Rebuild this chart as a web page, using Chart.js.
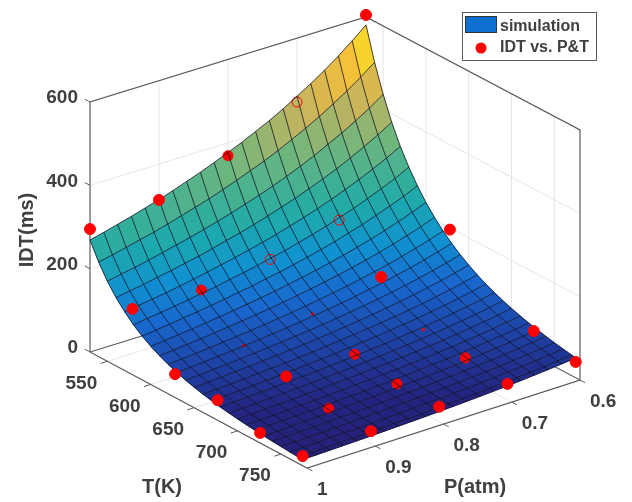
<!DOCTYPE html>
<html>
<head>
<meta charset="utf-8">
<title>IDT surface</title>
<script src="https://cdn.jsdelivr.net/npm/chart.js@4/dist/chart.umd.min.js"></script>
<style>
  html, body { margin: 0; padding: 0; background: #fff; }
  canvas { display: block; }
</style>
</head>
<body>
<canvas id="chart" width="632" height="502"></canvas>
<script>
// ── Tick labels ──────────────────────────────────────────────────────────────
const tTicks = [550, 600, 650, 700, 750];
const pTicks = [1, 0.9, 0.8, 0.7, 0.6];
const zTicks = [0, 200, 400, 600];

// ── Measured points (rows follow pointT, columns follow pointP) ──────────────
const pointT = [530, 579, 628, 677, 726, 775];
const pointP = [1, 0.9, 0.8, 0.7, 0.6];
const pointIdt = [
  [295, 314, 369, 447, 605],
  [158, 152, 174, 217, 260],
  [56, 73, 97, 134, 196],
  [48, 53, 54, 61, 90],
  [24, 31, 37, 47, 59],
  [23, 30, 36, 38, 38]
];
// how much of each point shows through the surface: f front, h half, r ring, t trace, x hidden
const pointShow = [
  ['f', 'f', 'h', 'r', 'f'],
  ['f', 'h', 'r', 'r', 'x'],
  ['f', 't', 't', 'f', 'f'],
  ['f', 'f', 'h', 't', 'x'],
  ['f', 'h', 'h', 'h', 'f'],
  ['f', 'f', 'f', 'f', 'f']
];

// ── Simulated surface ────────────────────────────────────────────────────────
const gridT = [530, 540, 550, 560, 570, 580, 590, 600, 610, 620, 630, 640, 650, 660, 670, 680, 690, 700, 710, 720, 730, 740, 750, 760, 770, 775];
const gridP = [1, 0.98, 0.96, 0.94, 0.92, 0.9, 0.88, 0.86, 0.84, 0.82, 0.8, 0.78, 0.76, 0.74, 0.72, 0.7, 0.68, 0.66, 0.64, 0.62, 0.6];
const gridIdt = [
  [269, 277, 286, 295, 305, 315, 326, 338, 350, 363, 377, 391, 407, 423, 441, 461, 481, 503, 527, 553, 581],
  [227, 234, 242, 250, 258, 267, 277, 287, 297, 309, 321, 334, 347, 362, 378, 395, 413, 433, 454, 477, 502],
  [192, 199, 205, 212, 220, 228, 236, 245, 254, 264, 275, 286, 298, 311, 325, 340, 357, 374, 393, 413, 436],
  [164, 170, 175, 182, 188, 195, 202, 210, 219, 227, 237, 247, 258, 269, 282, 295, 309, 325, 342, 360, 380],
  [141, 146, 151, 156, 162, 168, 175, 182, 189, 197, 205, 214, 224, 234, 245, 257, 270, 284, 299, 315, 333],
  [121, 126, 130, 135, 140, 146, 151, 158, 164, 171, 179, 186, 195, 204, 214, 225, 236, 249, 263, 277, 294],
  [105, 109, 113, 118, 122, 127, 132, 138, 143, 150, 156, 163, 171, 179, 188, 198, 208, 220, 232, 245, 260],
  [91.7, 95.1, 98.7, 102.5, 106.6, 111, 115.5, 120.4, 125.6, 131.2, 137.3, 143.7, 150.6, 158, 166, 174.7, 184.1, 194.3, 205.4, 217.5, 230.8],
  [80.3, 83.4, 86.6, 90, 93.6, 97.5, 101.7, 106.1, 110.7, 115.8, 121.2, 127, 133.2, 139.9, 147.2, 155, 163.5, 172.8, 182.8, 193.8, 205.9],
  [70.5, 73.2, 76.1, 79.2, 82.5, 85.9, 89.7, 93.6, 97.9, 102.4, 107.2, 112.4, 118.1, 124.2, 130.7, 137.8, 145.5, 153.9, 163.1, 173.1, 184.1],
  [62.2, 64.6, 67.2, 70, 73, 76.1, 79.4, 83, 86.8, 90.9, 95.4, 100.1, 105.2, 110.7, 116.7, 123.2, 130.2, 137.8, 146.2, 155.3, 165.4],
  [55.1, 57.3, 59.7, 62.2, 64.8, 67.7, 70.7, 73.9, 77.4, 81.1, 85.1, 89.4, 94.1, 99.1, 104.5, 110.4, 116.8, 123.8, 131.4, 139.8, 149],
  [49, 51, 53.1, 55.4, 57.8, 60.4, 63.1, 66.1, 69.2, 72.6, 76.2, 80.2, 84.4, 89, 93.9, 99.3, 105.2, 111.6, 118.6, 126.3, 134.8],
  [43.7, 45.5, 47.5, 49.5, 51.7, 54, 56.5, 59.2, 62, 65.2, 68.5, 72.1, 75.9, 80.1, 84.6, 89.6, 95, 100.9, 107.3, 114.4, 122.1],
  [39.1, 40.7, 42.5, 44.4, 46.4, 48.5, 50.8, 53.2, 55.8, 58.7, 61.7, 65, 68.5, 72.3, 76.5, 81.1, 86, 91.4, 97.4, 103.9, 111.1],
  [35.1, 36.6, 38.2, 39.9, 41.7, 43.7, 45.8, 48, 50.4, 53, 55.8, 58.8, 62.1, 65.6, 69.5, 73.6, 78.2, 83.2, 88.7, 94.7, 101.4],
  [31.6, 33, 34.4, 36, 37.7, 39.5, 41.4, 43.4, 45.6, 48, 50.6, 53.3, 56.3, 59.6, 63.1, 67, 71.2, 75.8, 80.9, 86.5, 92.7],
  [28.6, 29.9, 31.2, 32.6, 34.1, 35.8, 37.6, 39.4, 41.5, 43.7, 46, 48.6, 51.3, 54.3, 57.6, 61.2, 65.1, 69.4, 74.1, 79.3, 85],
  [25.9, 27.1, 28.3, 29.6, 31, 32.5, 34.1, 35.9, 37.8, 39.8, 42, 44.3, 46.9, 49.7, 52.7, 56, 59.6, 63.6, 68, 72.8, 78.1],
  [23.6, 24.7, 25.8, 27, 28.3, 29.7, 31.2, 32.8, 34.5, 36.4, 38.4, 40.6, 42.9, 45.5, 48.3, 51.4, 54.7, 58.4, 62.5, 66.9, 71.9],
  [21.5, 22.5, 23.5, 24.6, 25.8, 27.1, 28.5, 30, 31.6, 33.3, 35.2, 37.2, 39.4, 41.8, 44.4, 47.3, 50.4, 53.8, 57.6, 61.8, 66.4],
  [19.6, 20.5, 21.5, 22.5, 23.6, 24.8, 26.1, 27.5, 28.9, 30.6, 32.3, 34.2, 36.2, 38.5, 40.9, 43.5, 46.5, 49.7, 53.2, 57.1, 61.5],
  [18, 18.8, 19.7, 20.7, 21.7, 22.8, 24, 25.3, 26.7, 28.2, 29.8, 31.5, 33.4, 35.5, 37.8, 40.3, 43, 46, 49.3, 53, 57],
  [16.5, 17.3, 18.1, 19, 20, 21, 22.1, 23.3, 24.6, 26, 27.5, 29.1, 30.9, 32.8, 34.9, 37.3, 39.8, 42.6, 45.7, 49.2, 53],
  [15.2, 15.9, 16.7, 17.5, 18.4, 19.4, 20.4, 21.5, 22.7, 24, 25.4, 26.9, 28.6, 30.4, 32.4, 34.6, 37, 39.6, 42.5, 45.7, 49.3],
  [14.6, 15.3, 16, 16.8, 17.7, 18.6, 19.6, 20.7, 21.9, 23.1, 24.5, 25.9, 27.6, 29.3, 31.2, 33.3, 35.6, 38.2, 41, 44.1, 47.6]
];

// ── Colormap (parula as it looks in the picture) ─────────────────────────────
const COLOR_STOPS = [
  [0, 36, 30, 112], [0.05, 36, 36, 128], [0.1, 30, 62, 160], [0.2, 24, 104, 206],
  [0.3, 16, 146, 208], [0.4, 28, 168, 174], [0.46, 48, 174, 156], [0.6, 112, 182, 124],
  [0.74, 200, 180, 92], [0.86, 245, 190, 60], [1, 248, 249, 16]
];
const Z_COLOR_MAX = 581;

function colorFor(z) {
  const f = Math.min(1, z / Z_COLOR_MAX);
  let i = 0;
  while (i < COLOR_STOPS.length - 2 && f > COLOR_STOPS[i + 1][0]) i++;
  const a = COLOR_STOPS[i], b = COLOR_STOPS[i + 1];
  const k = (f - a[0]) / (b[0] - a[0]);
  const c = [1, 2, 3].map(n => Math.round(a[n] + (b[n] - a[n]) * k));
  return `rgb(${c[0]},${c[1]},${c[2]})`;
}

// ── View: maps (T, P, IDT) onto the flat x/y scales ──────────────────────────
const T_MIN = 530, T_MAX = 780, P_MIN = 0.6, P_MAX = 1, Z_TOP = 600;

function project(T, P, z) {
  const u = (T - T_MIN) / (T_MAX - T_MIN);
  const v = (P_MAX - P) / (P_MAX - P_MIN);
  return {
    x: 90 + 217 * u + 276 * v - 3 * u * v,
    y: 352 + 116 * u - 85 * v - 3 * u * v - z * 0.4167
  };
}

// ── Datasets ─────────────────────────────────────────────────────────────────
const datasets = [];

function addLine(pts, color, width, order) {
  datasets.push({
    type: 'line', data: pts.map(p => project(p[0], p[1], p[2])),
    borderColor: color, borderWidth: width, pointRadius: 0, fill: false, tension: 0, order
  });
}

// walls and floor grid
const GRID = '#e6e6e6';
zTicks.slice(1, 3).forEach(z => {
  addLine([[T_MIN, P_MAX, z], [T_MIN, P_MIN, z], [T_MAX, P_MIN, z]], GRID, 1, 9000);
});
tTicks.forEach(t => {
  addLine([[t, P_MAX, 0], [t, P_MIN, 0], [t, P_MIN, Z_TOP]], GRID, 1, 9000);
});
pTicks.slice(1, 4).forEach(p => {
  addLine([[T_MAX, p, 0], [T_MIN, p, 0], [T_MIN, p, Z_TOP]], GRID, 1, 9000);
});

// box and tick marks
const AXIS = '#5c5c5c';
addLine([[T_MIN, P_MAX, 0], [T_MIN, P_MAX, Z_TOP], [T_MIN, P_MIN, Z_TOP], [T_MAX, P_MIN, Z_TOP], [T_MAX, P_MIN, 0]], AXIS, 1.2, 8000);
addLine([[T_MIN, P_MAX, 0], [T_MAX, P_MAX, 0], [T_MAX, P_MIN, 0], [T_MIN, P_MIN, 0], [T_MIN, P_MAX, 0]], AXIS, 1.2, 8000);
tTicks.forEach(t => addLine([[t, P_MAX, 0], [t, P_MAX + 0.01, 0]], AXIS, 1, 8000));
pTicks.forEach(p => addLine([[T_MAX, p, 0], [T_MAX + 6, p, 0]], AXIS, 1, 8000));
zTicks.forEach(z => addLine([[T_MIN, P_MAX, z], [T_MIN - 6, P_MAX, z]], AXIS, 1, 8000));

// surface cells, back to front
let cellOrder = 7000;
for (let i = 0; i < gridT.length - 1; i++) {
  for (let j = gridP.length - 2; j >= 0; j--) {
    const mean = (gridIdt[i][j] + gridIdt[i + 1][j] + gridIdt[i][j + 1] + gridIdt[i + 1][j + 1]) / 4;
    datasets.push({
      type: 'line',
      data: [
        project(gridT[i], gridP[j], gridIdt[i][j]),
        project(gridT[i + 1], gridP[j], gridIdt[i + 1][j]),
        project(gridT[i + 1], gridP[j + 1], gridIdt[i + 1][j + 1]),
        project(gridT[i], gridP[j + 1], gridIdt[i][j + 1])
      ],
      backgroundColor: colorFor(mean), borderColor: colorFor(mean), borderWidth: 0.6,
      pointRadius: 0, fill: 'shape', tension: 0, order: cellOrder--
    });
  }
}

// measured points by visibility
function pointsWhere(flag) {
  const out = [];
  pointT.forEach((t, i) => pointP.forEach((p, j) => {
    if (pointShow[i][j] === flag) out.push(project(t, p, pointIdt[i][j]));
  }));
  return out;
}
const RED = '#ff0000';
function addPoints(flag, radius, fillColor, order, label) {
  datasets.push({
    type: 'line', label, data: pointsWhere(flag), showLine: false, order,
    pointRadius: radius, pointBackgroundColor: fillColor, pointBorderColor: RED, pointBorderWidth: 1
  });
}
addPoints('h', 5, RED, 300);
addPoints('r', 5, 'rgba(0,0,0,0)', 300);
addPoints('t', 1.2, RED, 300);
addPoints('f', 5.5, RED, 10, 'IDT vs. P&T');

// mesh lines sit over the half-covered points
const MESH = 'rgba(14,14,34,0.85)';
gridT.forEach((t, i) => addLine(gridP.map((p, j) => [t, p, gridIdt[i][j]]), MESH, 0.9, 200));
gridP.forEach((p, j) => addLine(gridT.map((t, i) => [t, p, gridIdt[i][j]]), MESH, 0.9, 200));

// ── Axis text and legend ─────────────────────────────────────────────────────
const TEXT = '#404040';
const textPlugin = {
  id: 'axisText',
  afterDraw(chart) {
    const { ctx, scales } = chart;
    const at = (q, dx, dy) => [scales.x.getPixelForValue(q.x) + dx, scales.y.getPixelForValue(q.y) + dy];
    ctx.save();
    ctx.fillStyle = TEXT;
    ctx.textBaseline = 'middle';
    ctx.font = 'bold 19px "Liberation Sans"';

    ctx.textAlign = 'right';
    zTicks.forEach(z => {
      const [x, y] = at(project(T_MIN, P_MAX, z), -12, -4);
      ctx.fillText(String(z), x, y);
    });
    ctx.textAlign = 'center';
    tTicks.forEach(t => {
      const [x, y] = at(project(t, P_MAX, 0), -26, 22);
      ctx.fillText(String(t), x, y);
    });
    ctx.textAlign = 'left';
    pTicks.forEach(p => {
      const [x, y] = at(project(T_MAX, p, 0), 10, 22);
      ctx.fillText(String(p), x, y);
    });

    ctx.font = 'bold 20px "Liberation Sans"';
    ctx.textAlign = 'center';
    ctx.fillText('T(K)', 162, 487);
    ctx.fillText('P(atm)', 475, 487);
    ctx.save();
    ctx.translate(27, 230);
    ctx.rotate(-Math.PI / 2);
    ctx.fillText('IDT(ms)', 0, 0);
    ctx.restore();

    // legend box
    ctx.fillStyle = '#fff';
    ctx.strokeStyle = '#5c5c5c';
    ctx.lineWidth = 1;
    ctx.fillRect(462, 12, 134, 48);
    ctx.strokeRect(462.5, 12.5, 134, 48);
    ctx.fillStyle = '#0f6fd0';
    ctx.strokeStyle = '#333';
    ctx.fillRect(465, 16, 32, 17);
    ctx.strokeRect(465.5, 16.5, 31, 16);
    ctx.fillStyle = RED;
    ctx.beginPath();
    ctx.arc(481, 48, 5.5, 0, Math.PI * 2);
    ctx.fill();
    ctx.fillStyle = TEXT;
    ctx.textAlign = 'left';
    ctx.font = 'bold 16px "Liberation Sans"';
    ctx.fillText('simulation', 500, 27);
    ctx.fillText('IDT vs. P&T', 500, 48);
    ctx.restore();
  }
};

// ── Chart ────────────────────────────────────────────────────────────────────
new Chart(document.getElementById('chart'), {
  type: 'line',
  data: { datasets },
  options: {
    responsive: false,
    animation: false,
    layout: { padding: 0, autoPadding: false },
    plugins: { legend: { display: false }, tooltip: { enabled: false } },
    scales: {
      x: { type: 'linear', min: 0, max: 632, display: false },
      y: { type: 'linear', min: 0, max: 502, reverse: true, display: false }
    }
  },
  plugins: [textPlugin]
});
</script>
</body>
</html>
